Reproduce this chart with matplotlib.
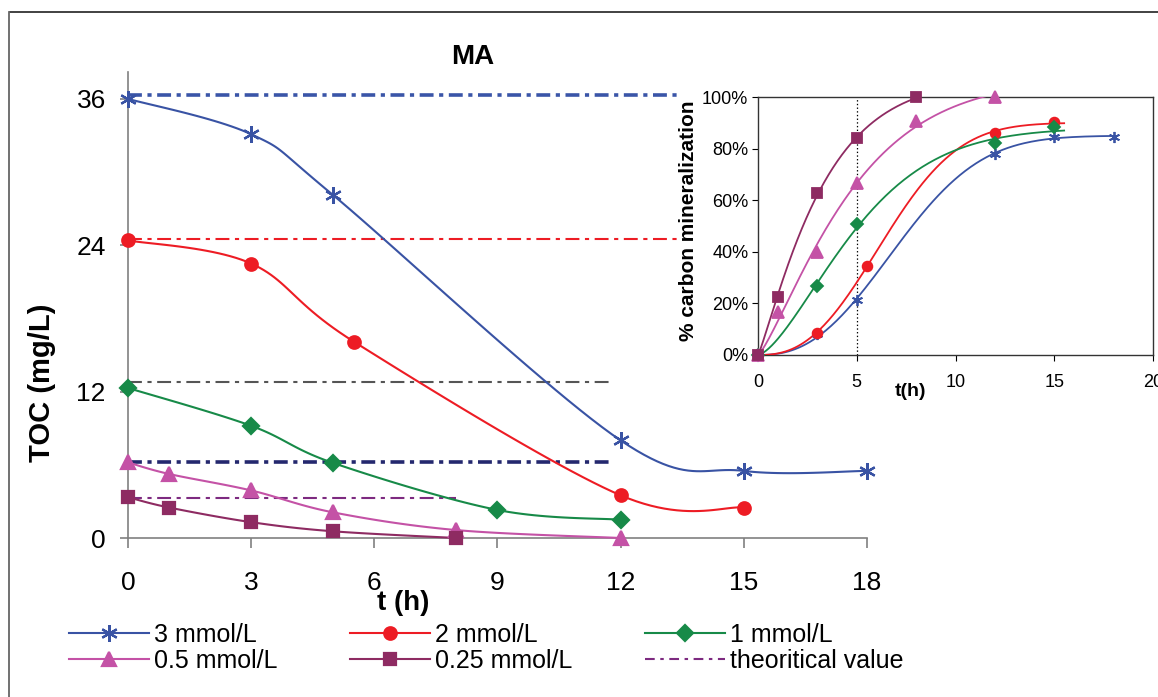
import matplotlib
matplotlib.use('Agg')
import matplotlib.pyplot as plt
import numpy as np
from matplotlib.lines import Line2D
from matplotlib.ticker import FuncFormatter

plt.rcParams['font.family'] = ['Liberation Sans', 'DejaVu Sans']
plt.rcParams['lines.scale_dashes'] = False

# main chart: TOC vs time
t3 = [0, 3, 5, 12, 15, 18]
toc3 = [36.0, 33.1, 28.1, 8.0, 5.5, 5.5]
t2 = [0, 3, 5.5, 12, 15]
toc2 = [24.4, 22.5, 16.1, 3.5, 2.5]
t1 = [0, 3, 5, 9, 12]
toc1 = [12.3, 9.2, 6.15, 2.3, 1.5]
t05 = [0, 1, 3, 5, 8, 12]
toc05 = [6.2, 5.25, 3.9, 2.1, 0.65, 0.0]
t025 = [0, 1, 3, 5, 8]
toc025 = [3.35, 2.5, 1.3, 0.55, 0.0]

# theoretical values and the time they are drawn to
theo = [36.3, 24.5, 12.8, 6.2, 3.3]
theo_end = [13.4, 13.4, 11.8, 11.8, 8.0]

# inset: % carbon mineralization
m3 = [0, 8.1, 21.3, 77.9, 84.6, 84.6]
m2 = [0, 8.5, 34.4, 86.1, 90.4]
t1i = [0, 3, 5, 12, 15]
m1 = [0, 26.6, 50.9, 82.0, 88.2]
t05i = [0, 1, 3, 5, 8, 12]
m05 = [0, 16.6, 40.0, 66.8, 90.7, 100.0]
m025 = [0, 22.5, 62.6, 84.3, 100.0]

labels = ['3 mmol/L', '2 mmol/L', '1 mmol/L', '0.5 mmol/L', '0.25 mmol/L']
colors = ['#3953A4', '#ED1C24', '#178A48', '#C452A6', '#8E2B62']
markers = [(6, 2, 0), 'o', 'D', '^', 's']
msizes = [12, 9, 8, 10, 8]
theo_colors = ['#3A55A8', '#ED1C24', '#555555', '#24286E', '#7D2A80']
theo_lw = [2.6, 1.5, 1.5, 2.6, 1.5]


def smooth(x, y, n=25):
    # Excel-like smoothed line (Catmull-Rom bezier)
    p = np.column_stack([x, y]).astype(float)
    out = []
    s = np.linspace(0, 1, n)[:, None]
    for i in range(len(p) - 1):
        p0 = p[i - 1] if i > 0 else p[i]
        p1, p2 = p[i], p[i + 1]
        p3 = p[i + 2] if i + 2 < len(p) else p[i + 1]
        c1 = p1 + (p2 - p0) / 6
        c2 = p2 - (p3 - p1) / 6
        seg = (1 - s) ** 3 * p1 + 3 * (1 - s) ** 2 * s * c1 + 3 * (1 - s) * s ** 2 * c2 + s ** 3 * p2
        out.append(seg if i == 0 else seg[1:])
    out = np.vstack(out)
    return out[:, 0], out[:, 1]


def weibull_fit(x, y):
    x = np.asarray(x, float)
    y = np.asarray(y, float)
    A = np.linspace(80, 140, 61)[:, None, None, None]
    tau = np.linspace(1, 12, 111)[None, :, None, None]
    k = np.linspace(0.8, 4, 65)[None, None, :, None]
    pred = A * (1 - np.exp(-(x / tau) ** k))
    sse = ((pred - y) ** 2).sum(axis=-1)
    i, j, m = np.unravel_index(np.argmin(sse), sse.shape)
    return A.ravel()[i], tau.ravel()[j], k.ravel()[m]


fig = plt.figure(figsize=(11.58, 6.97), dpi=100)
ax = fig.add_axes([0.1105, 0.2281, 0.6382, 0.6686])

series = [(t3, toc3), (t2, toc2), (t1, toc1), (t05, toc05), (t025, toc025)]
handles = []
for (x, y), c, mk, ms, lab in zip(series, colors, markers, msizes, labels):
    sx, sy = smooth(x, y)
    ax.plot(sx, sy, color=c, lw=1.5, clip_on=False, zorder=3)
    ax.plot(x, y, ls='none', marker=mk, ms=ms, color=c, mec=c, mew=1.6, clip_on=False, zorder=4)
    handles.append(Line2D([], [], color=c, lw=1.5, marker=mk, ms=ms, mew=1.6, label=lab))

for v, e, c, lw in zip(theo, theo_end, theo_colors, theo_lw):
    ax.plot([0, e], [v, v], color=c, lw=lw, ls=(0, (10, 4, 3, 4)), zorder=2)
handles.append(Line2D([], [], color='#7D2A80', lw=1.5, ls=(0, (7, 4, 2.5, 4)), label='theoritical value'))

ax.set_xlim(0, 18)
ax.set_ylim(0, 38.2)
ax.set_xticks([0, 3, 6, 9, 12, 15, 18])
ax.set_yticks([0, 12, 24, 36])
for s in ['top', 'right']:
    ax.spines[s].set_visible(False)
for s in ['left', 'bottom']:
    ax.spines[s].set_color('#808080')
    ax.spines[s].set_linewidth(1.2)
ax.tick_params(axis='x', direction='out', length=7, width=1.2, color='#808080', pad=17, labelsize=19)
ax.tick_params(axis='y', direction='out', length=6, width=1.2, color='#808080', pad=10, labelsize=19)
ax.set_facecolor('none')

ax.text(0.372, -0.139, 't (h)', transform=ax.transAxes, ha='center', va='center',
        fontsize=20, fontweight='bold')
ax.text(-0.116, 0.333, 'TOC (mg/L)', transform=ax.transAxes, ha='center', va='center',
        rotation=90, fontsize=21, fontweight='bold')
fig.text(0.4085, 0.918, 'MA', ha='center', va='center', fontsize=20, fontweight='bold')

# legend is filled column by column, so reorder to read row by row
order = [0, 3, 1, 4, 2, 5]
fig.legend(handles=[handles[i] for i in order], ncol=3, loc='upper left',
           bbox_to_anchor=(0.06, 0.106), frameon=False, fontsize=18, handlelength=3.2,
           handletextpad=0.2, columnspacing=2.9, labelspacing=0.08, borderpad=0,
           borderaxespad=0, numpoints=1)

# inset
ins = fig.add_axes([0.6546, 0.4907, 0.3411, 0.3701])
ins.set_facecolor('white')
inset_series = [(t3, m3), (t2, m2), (t1i, m1), (t05i, m05), (t025, m025)]
inset_end = [18, 15.5, 15.5, 12.4, 9]
inset_ms = [8, 7, 6, 8, 6.5]
for (x, y), c, mk, ms, e in zip(inset_series, colors, markers, inset_ms, inset_end):
    A, tau, k = weibull_fit(x, y)
    tt = np.linspace(0, e, 200)
    ins.plot(tt, A * (1 - np.exp(-(tt / tau) ** k)), color=c, lw=1.3, zorder=3)
    ins.plot(x, y, ls='none', marker=mk, ms=ms, color=c, mec=c, mew=1.3, clip_on=False, zorder=4)

ins.axvline(5, color='black', lw=0.9, ls=':', zorder=2)
ins.set_xlim(0, 20)
ins.set_ylim(0, 100)
ins.set_xticks([0, 5, 10, 15, 20])
ins.set_yticks([0, 20, 40, 60, 80, 100])
ins.yaxis.set_major_formatter(FuncFormatter(lambda v, p: '%d%%' % v))
for s in ins.spines.values():
    s.set_color('#333333')
    s.set_linewidth(1.0)
ins.tick_params(axis='x', direction='out', length=4, pad=10, labelsize=13)
ins.tick_params(axis='y', direction='out', length=4, pad=3, labelsize=13)
ins.text(0.385, -0.143, 't(h)', transform=ins.transAxes, ha='center', va='center',
         fontsize=14, fontweight='bold')
ins.text(-0.177, 0.519, '% carbon mineralization', transform=ins.transAxes, ha='center',
         va='center', rotation=90, fontsize=15, fontweight='bold')

# outer frame
fig.add_artist(Line2D([10 / 1158, 1], [1 - 12 / 697, 1 - 12 / 697], color='#333333', lw=1.3))
fig.add_artist(Line2D([9 / 1158, 9 / 1158], [0, 1 - 12 / 697], color='#666666', lw=1.3))

fig.savefig('out.png', dpi=100)
